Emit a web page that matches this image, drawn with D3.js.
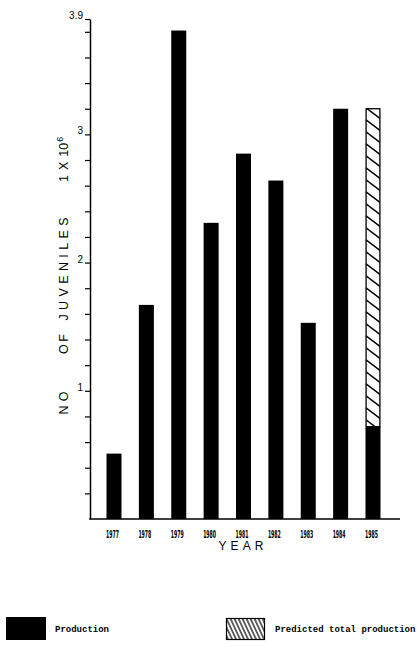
<!DOCTYPE html>
<html>
<head>
<meta charset="utf-8">
<script src="https://cdn.jsdelivr.net/npm/d3@7"></script>
<style>
  body { margin: 0; background: #fff; }
  svg { display: block; }
</style>
</head>
<body>
<div id="chart"></div>
<script>
// values (millions of juveniles)
const years = ['1977', '1978', '1979', '1980', '1981', '1982', '1983', '1984', '1985'];
const production = [0.51, 1.67, 3.81, 2.31, 2.85, 2.64, 1.53, 3.20, 0.72];
const predictedTotal = [null, null, null, null, null, null, null, null, 3.20];
const yTicks = [0.2, 0.4, 0.6, 0.8, 1, 1.2, 1.4, 1.6, 1.8, 2, 2.2, 2.4, 2.6, 2.8, 3, 3.2, 3.4, 3.6, 3.8, 3.9];
const yTickLabels = { 1: '1', 2: '2', 3: '3', 3.9: '3.9' };
const yTitleWords = ['NO', 'OF', 'JUVENILES'];
const legendItems = ['Production', 'Predicted total production'];

const width = 417, height = 647;
const axisX = 90, baseY = 519, topY = 19, rightX = 400;

const svg = d3.select('#chart').append('svg')
    .attr('width', width)
    .attr('height', height);

const defs = svg.append('defs');
// hatch for the bar: "\" stripes
const hatch = defs.append('pattern')
    .attr('id', 'hatch')
    .attr('patternUnits', 'userSpaceOnUse')
    .attr('width', 15)
    .attr('height', 12)
    .attr('x', 366)
    .attr('y', 0);
hatch.append('path')
    .attr('d', 'M -1 -1 L 16 12 M -1 11 L 16 24 M -1 -13 L 16 0')
    .attr('stroke', '#000')
    .attr('stroke-width', 1.4);
// denser hatch for the legend swatch
const hatch2 = defs.append('pattern')
    .attr('id', 'hatch2')
    .attr('patternUnits', 'userSpaceOnUse')
    .attr('width', 4)
    .attr('height', 8)
    .attr('patternTransform', 'skewX(25)');
hatch2.append('line')
    .attr('x1', 2).attr('y1', 0).attr('x2', 2).attr('y2', 8)
    .attr('stroke', '#000')
    .attr('stroke-width', 1.3);

const x = d3.scalePoint().domain(years).range([114, 373]);
const y = d3.scaleLinear().domain([0, 3.9]).range([baseY, topY]);
const barW = 15;

// bars
svg.append('g').selectAll('rect')
    .data(years)
    .enter()
    .append('rect')
    .attr('x', d => x(d) - barW / 2)
    .attr('y', (d, i) => y(production[i]))
    .attr('width', barW)
    .attr('height', (d, i) => baseY - y(production[i]))
    .attr('fill', '#000');

// predicted part
svg.append('g').selectAll('rect')
    .data(years.filter((d, i) => predictedTotal[i] != null))
    .enter()
    .append('rect')
    .attr('x', d => x(d) - barW / 2 + 0.6)
    .attr('y', d => y(predictedTotal[years.indexOf(d)]))
    .attr('width', barW - 1.2)
    .attr('height', d => {
        const i = years.indexOf(d);
        return y(production[i]) - y(predictedTotal[i]);
    })
    .attr('fill', 'url(#hatch)')
    .attr('stroke', '#000')
    .attr('stroke-width', 1.3);

// y axis
const yAxis = d3.axisLeft(y)
    .tickValues(yTicks)
    .tickSize(5)
    .tickSizeOuter(0)
    .tickPadding(2)
    .tickFormat(d => yTickLabels[d] || '');

const gy = svg.append('g')
    .attr('transform', `translate(${axisX},0)`)
    .call(yAxis);
gy.select('.domain').attr('stroke-width', 1.5);
gy.selectAll('.tick line').attr('stroke-width', 1.2);
gy.selectAll('.tick text')
    .attr('font-family', 'Liberation Sans, Arial, sans-serif')
    .attr('font-size', 10)
    .attr('dy', '-0.05em');

// x axis line
svg.append('line')
    .attr('x1', axisX - 0.75)
    .attr('x2', rightX)
    .attr('y1', baseY)
    .attr('y2', baseY)
    .attr('stroke', '#000')
    .attr('stroke-width', 1.6);

// year labels
svg.append('g').selectAll('text')
    .data(years)
    .enter()
    .append('text')
    .attr('x', d => x(d) - 1.5)
    .attr('y', 537.5)
    .attr('text-anchor', 'middle')
    .attr('font-family', 'DejaVu Sans Condensed, DejaVu Sans, sans-serif')
    .attr('font-size', 10)
    .attr('font-weight', 'bold')
    .attr('textLength', 13)
    .attr('lengthAdjust', 'spacingAndGlyphs')
    .text(d => d);

svg.append('text')
    .attr('x', 241)
    .attr('y', 550)
    .attr('text-anchor', 'middle')
    .attr('font-family', 'Liberation Sans, Arial, sans-serif')
    .attr('font-size', 12)
    .attr('textLength', 45)
    .attr('lengthAdjust', 'spacing')
    .text('YEAR');

// y title: spaced-out words, rotated
const titleCenters = [403, 344, 269];
const titleLengths = [23, 20, 103];
const titleX = 68;
yTitleWords.forEach((w, i) => {
    svg.append('text')
        .attr('transform', `translate(${titleX},${titleCenters[i]}) rotate(-90)`)
        .attr('text-anchor', 'middle')
        .attr('font-family', 'Liberation Sans, Arial, sans-serif')
        .attr('font-size', 12.5)
        .attr('textLength', titleLengths[i])
        .attr('lengthAdjust', 'spacing')
        .text(w);
});
const unit = svg.append('text')
    .attr('transform', `translate(${titleX},182) rotate(-90)`)
    .attr('font-family', 'Liberation Sans, Arial, sans-serif')
    .attr('font-size', 12.5)
    .attr('xml:space', 'preserve');
unit.append('tspan').text('1');
unit.append('tspan').attr('dx', 5).text('X');
unit.append('tspan').attr('dx', 5).text('10');
unit.append('tspan').attr('font-size', 9).attr('dy', -5).attr('dx', 1).text('6');

// legend
const legend = svg.append('g');
legend.append('rect')
    .attr('x', 6).attr('y', 617).attr('width', 40).attr('height', 23)
    .attr('fill', '#000');
legend.append('rect')
    .attr('x', 226.5).attr('y', 618.5).attr('width', 38).attr('height', 21)
    .attr('fill', 'url(#hatch2)')
    .attr('stroke', '#000')
    .attr('stroke-width', 1.2);
legend.selectAll('text')
    .data(legendItems)
    .enter()
    .append('text')
    .attr('x', (d, i) => i === 0 ? 55 : 275)
    .attr('y', 632)
    .attr('font-family', 'Liberation Mono, DejaVu Sans Mono, monospace')
    .attr('font-size', 9)
    .attr('font-weight', 'bold')
    .text(d => d);
</script>
</body>
</html>
